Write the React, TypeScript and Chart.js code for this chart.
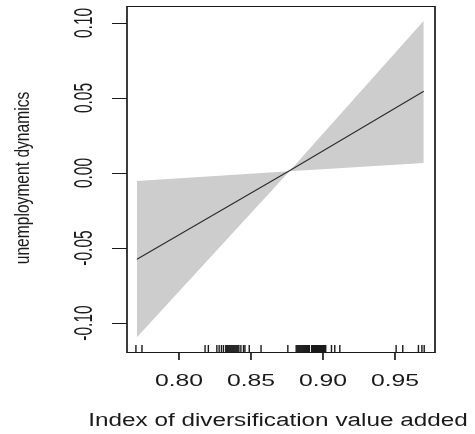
import React, { useEffect, useRef } from "react";
import { Chart, registerables } from "chart.js";

Chart.register(...registerables);

// ---- data ----
const xTicks = [0.8, 0.85, 0.9, 0.95];
const xTickLabels = ["0.80", "0.85", "0.90", "0.95"];
const yTicks = [-0.1, -0.05, 0.0, 0.05, 0.1];
const yTickLabels = ["-0.10", "-0.05", "0.00", "0.05", "0.10"];

const fitX = [0.7708, 0.8767, 0.97];
const fitY = [-0.0575, 0.0015, 0.0545];

const bandX = [0.7708, 0.8767, 0.97];
const bandUpper = [-0.0053, 0.0012, 0.1015];
const bandLower = [-0.1095, 0.0012, 0.0067];

const rugX = [
  0.7701, 0.7743,
  0.8181, 0.8204, 0.8263, 0.8279, 0.8295, 0.8309,
  0.8325, 0.8332, 0.8339, 0.8346, 0.8353, 0.836, 0.8367, 0.8374, 0.8381, 0.8388, 0.8395, 0.8402, 0.8409, 0.8416,
  0.843, 0.8448, 0.8458, 0.8488, 0.857, 0.8756,
  0.8814, 0.8821, 0.8828, 0.8835, 0.8842, 0.8849, 0.8856, 0.8863, 0.887, 0.8877, 0.8884, 0.8891, 0.8898, 0.8905,
  0.8921, 0.8928, 0.8935, 0.8942, 0.8949, 0.8956, 0.8963, 0.897, 0.8977, 0.8984, 0.8991, 0.8998, 0.9005, 0.9012, 0.9019,
  0.9059, 0.9082, 0.9117,
  0.9508, 0.9554,
  0.9663, 0.9687, 0.9703,
];

const xTitle = "Index of diversification value added";
const yTitle = "unemployment dynamics";

const X_MIN = 0.7639;
const X_MAX = 0.9778;
const Y_MIN = -0.1193;
const Y_MAX = 0.1113;

const FONT = "'Liberation Sans', Arial, sans-serif";
const INK = "#1a1a1a";

function stretchedText(
  ctx: CanvasRenderingContext2D,
  text: string,
  x: number,
  y: number,
  size: number,
  sx: number,
  rotated: boolean,
  baseline: CanvasTextBaseline
) {
  ctx.save();
  ctx.translate(x, y);
  ctx.scale(sx, 1);
  if (rotated) ctx.rotate(-Math.PI / 2);
  ctx.font = `${size}px ${FONT}`;
  ctx.fillStyle = INK;
  ctx.textAlign = "center";
  ctx.textBaseline = baseline;
  ctx.fillText(text, 0, 0);
  ctx.restore();
}

const rPlot = {
  id: "rPlot",
  afterDatasetsDraw(chart: any) {
    const { ctx, chartArea: a, scales } = chart;
    const xs = scales.x;
    const ys = scales.y;
    ctx.save();
    ctx.strokeStyle = INK;

    // rug
    ctx.lineWidth = 1.4;
    rugX.forEach((v) => {
      const px = xs.getPixelForValue(v);
      ctx.beginPath();
      ctx.moveTo(px, a.bottom - 7);
      ctx.lineTo(px, a.bottom);
      ctx.stroke();
    });

    // box: horizontal edges thin, vertical edges thicker (stretched look)
    ctx.lineWidth = 1;
    ctx.beginPath();
    ctx.moveTo(a.left, a.top + 0.5);
    ctx.lineTo(a.right, a.top + 0.5);
    ctx.moveTo(a.left, a.bottom + 0.5);
    ctx.lineTo(a.right, a.bottom + 0.5);
    ctx.stroke();
    ctx.lineWidth = 1.7;
    ctx.beginPath();
    ctx.moveTo(a.left, a.top);
    ctx.lineTo(a.left, a.bottom + 1);
    ctx.moveTo(a.right, a.top);
    ctx.lineTo(a.right, a.bottom + 1);
    ctx.stroke();

    // y ticks
    ctx.lineWidth = 1;
    yTicks.forEach((v, i) => {
      const py = Math.round(ys.getPixelForValue(v)) + 0.5;
      ctx.beginPath();
      ctx.moveTo(a.left - 15, py);
      ctx.lineTo(a.left, py);
      ctx.stroke();
      stretchedText(ctx, yTickLabels[i], 91.5, ys.getPixelForValue(v), 15.5, 1.7, true, "alphabetic");
    });

    // x ticks
    ctx.lineWidth = 1.7;
    xTicks.forEach((v, i) => {
      const px = xs.getPixelForValue(v);
      ctx.beginPath();
      ctx.moveTo(px, a.bottom);
      ctx.lineTo(px, a.bottom + 8);
      ctx.stroke();
      stretchedText(ctx, xTickLabels[i], px, 386, 16.5, 1.5, false, "alphabetic");
    });

    // titles
    stretchedText(ctx, xTitle, 278, 426, 18, 1.35, false, "alphabetic");
    stretchedText(ctx, yTitle, 28.5, 178, 15.6, 1.35, true, "alphabetic");

    ctx.restore();
  },
};

export default function App() {
  const canvasRef = useRef<HTMLCanvasElement | null>(null);

  useEffect(() => {
    if (!canvasRef.current) return;
    const chart = new Chart(canvasRef.current, {
      type: "line",
      data: {
        datasets: [
          {
            label: "fit",
            data: fitX.map((x, i) => ({ x, y: fitY[i] })),
            borderColor: "#2a2a2a",
            borderWidth: 1.1,
            pointRadius: 0,
            fill: false,
            tension: 0,
          },
          {
            label: "upper",
            data: bandX.map((x, i) => ({ x, y: bandUpper[i] })),
            borderColor: "rgba(0,0,0,0)",
            borderWidth: 0,
            backgroundColor: "#cdcdcd",
            pointRadius: 0,
            fill: "+1",
            tension: 0,
          },
          {
            label: "lower",
            data: bandX.map((x, i) => ({ x, y: bandLower[i] })),
            borderColor: "rgba(0,0,0,0)",
            borderWidth: 0,
            backgroundColor: "#cdcdcd",
            pointRadius: 0,
            fill: false,
            tension: 0,
          },
        ],
      },
      options: {
        animation: false,
        responsive: false,
        devicePixelRatio: 1,
        layout: { padding: { left: 127, right: 40, top: 6, bottom: 82 } },
        plugins: {
          legend: { display: false },
          tooltip: { enabled: false },
          title: { display: false },
          filler: { drawTime: "beforeDatasetsDraw" },
        } as any,
        scales: {
          x: { type: "linear", min: X_MIN, max: X_MAX, display: false },
          y: { type: "linear", min: Y_MIN, max: Y_MAX, display: false },
        },
      },
      plugins: [rPlot],
    });
    return () => chart.destroy();
  }, []);

  return (
    <div style={{ position: "absolute", left: 0, top: 0, width: 475, height: 434, background: "#fff" }}>
      <canvas ref={canvasRef} width={475} height={434} />
    </div>
  );
}
